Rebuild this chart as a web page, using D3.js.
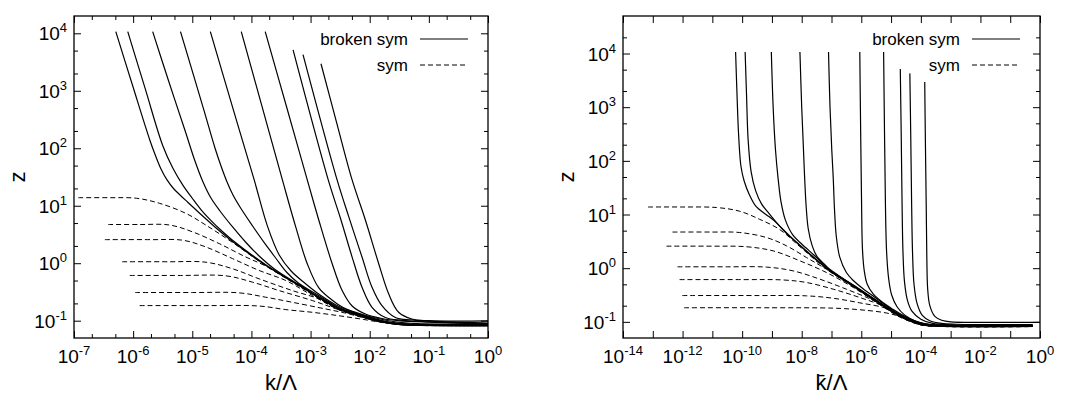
<!DOCTYPE html>
<html><head><meta charset="utf-8">
<script src="https://cdn.jsdelivr.net/npm/d3@7"></script>
<style>
body{margin:0;background:#fff}
svg{display:block}
text{font-family:"Liberation Sans",Arial,Helvetica,sans-serif;fill:#000}
</style>
</head><body>
<svg id="c" width="1066" height="394"></svg>
<script>
// ---------- DATA ----------
// left panel: z versus k/Lambda
const brokenSymLeft = [
  [[5.09e-7,1.07e4],[1e-6,1150],[1.905e-6,141],[2.40e-6,73.5],[2.96e-6,43.6],[3.74e-6,28.1],[4.81e-6,19.95],[6.32e-6,15.1],[8.47e-6,11.4],[1.175e-5,8.33],[1.706e-5,5.88],[2.83e-5,3.71],[4.79e-5,2.39],[1.74e-4,0.923],[6.31e-4,0.412],[3.02e-3,0.162],[6.46e-3,0.126],[1.26e-2,0.102],[2.09e-2,0.0912],[3.98e-2,0.0851],[0.1,0.0832],[1,0.0832]],
  [[8.11e-7,1.07e4],[1.585e-6,1122],[3.16e-6,112],[4.68e-6,45.4],[6.92e-6,22.9],[1e-5,13.5],[1.41e-5,8.51],[2.0e-5,5.75],[3.16e-5,3.63],[4.79e-5,2.51],[1.74e-4,0.944],[6.31e-4,0.417],[3.02e-3,0.164],[6.46e-3,0.127],[1.26e-2,0.1035],[2.09e-2,0.0923],[3.98e-2,0.0861],[0.1,0.0841],[1,0.0841]],
  [[2.14e-6,1.07e4],[3.98e-6,1479],[7.59e-6,200],[1.11e-5,60.0],[1.518e-5,25.9],[2.07e-5,13.6],[2.94e-5,8.10],[4.81e-5,4.27],[7.94e-5,2.34],[1.35e-4,1.336],[2.51e-4,0.778],[6.31e-4,0.4264],[3.02e-3,0.166],[6.46e-3,0.129],[1.26e-2,0.105],[2.09e-2,0.0933],[3.98e-2,0.0871],[0.1,0.0851],[1,0.0851]],
  [[6.32e-6,1.07e4],[1.585e-5,447],[2.42e-5,101],[3.06e-5,49.1],[3.87e-5,25.9],[4.88e-5,15.4],[6.41e-5,9.51],[1.047e-4,4.44],[1.658e-4,2.25],[2.574e-4,1.233],[3.98e-4,0.690],[6.37e-4,0.444],[1.416e-3,0.269],[3.02e-3,0.168],[6.46e-3,0.130],[1.26e-2,0.106],[2.09e-2,0.0933],[3.98e-2,0.0871],[0.1,0.0851],[1,0.0851]],
  [[2.02e-5,1.07e4],[5.01e-5,447],[1.114e-4,28.1],[1.86e-4,4.47],[2.95e-4,1.39],[4.69e-4,0.732],[7.94e-4,0.453],[1.41e-3,0.2856],[3.02e-3,0.1766],[6.46e-3,0.132],[1.26e-2,0.107],[2.09e-2,0.0944],[3.98e-2,0.0881],[0.1,0.0861],[1,0.0861]],
  [[6.73e-5,1.07e4],[1.585e-4,447],[3.34e-4,28.1],[5.61e-4,4.28],[8.79e-4,0.98],[1.38e-3,0.371],[2.24e-3,0.2337],[3.55e-3,0.1697],[6.31e-3,0.1361],[1.26e-2,0.1114],[2.51e-2,0.0968],[6.31e-2,0.089],[1,0.087]],
  [[1.71e-4,1.07e4],[3.98e-4,501],[8.79e-4,28.1],[1.38e-3,5.6],[2.32e-3,0.98],[3.42e-3,0.334],[5.04e-3,0.180],[8.47e-3,0.1308],[1.61e-2,0.1092],[3.25e-2,0.0996],[0.1046,0.0941],[1,0.088]],
  [[5.06e-4,5129],[1.99e-3,28.1],[3.21e-3,6.0],[5.04e-3,1.28],[7.41e-3,0.382],[1.094e-2,0.171],[1.84e-2,0.1137],[3.50e-2,0.1016],[0.1046,0.0957],[1,0.089]],
  [[7.45e-4,4266],[2.81e-3,28.1],[4.43e-3,6.4],[7.41e-3,1.28],[1.094e-2,0.382],[1.61e-2,0.183],[2.71e-2,0.114],[5.15e-2,0.103],[0.158,0.096],[1,0.091]],
  [[1.50e-3,2951],[2.75e-3,282],[5.04e-3,28.1],[8.47e-3,5.6],[1.42e-2,0.98],[2.09e-2,0.293],[3.08e-2,0.140],[5.15e-2,0.107],[9.84e-2,0.1],[1,0.0989]]
];
const symLeft = [
  [[1.18e-7,13.8],[3.98e-7,13.8],[1.135e-6,13.5],[2.81e-6,11.0],[7.87e-6,7.33],[1.71e-5,4.58],[4.81e-5,2.29],[1.75e-4,0.902],[6.38e-4,0.403],[3.01e-3,0.158],[6.46e-3,0.124],[1.26e-2,0.101],[2.51e-2,0.0891],[5.01e-2,0.0841],[1,0.0822]],
  [[3.78e-7,4.71],[1.26e-6,4.71],[4.13e-6,4.62],[1.02e-5,3.50],[2.86e-5,2.19],[8.07e-5,1.28],[1.75e-4,0.891],[6.38e-4,0.398],[3.01e-3,0.157],[6.46e-3,0.123],[1.26e-2,0.1],[2.51e-2,0.0881],[5.01e-2,0.0836],[1,0.0818]],
  [[3.33e-7,2.57],[2.0e-6,2.57],[6.93e-6,2.51],[1.71e-5,1.91],[4.81e-5,1.20],[1.35e-4,0.748],[3.81e-4,0.5],[1.07e-3,0.275],[3.01e-3,0.155],[6.46e-3,0.122],[1.26e-2,0.1],[2.51e-2,0.0877],[5.01e-2,0.0832],[1,0.0817]],
  [[6.52e-7,1.06],[3.98e-6,1.06],[1.71e-5,1.04],[4.81e-5,0.8],[1.35e-4,0.535],[4.93e-4,0.334],[1.38e-3,0.239],[3.01e-3,0.155],[6.46e-3,0.122],[1.26e-2,0.1],[2.51e-2,0.0877],[5.01e-2,0.0832],[1,0.0817]],
  [[8.77e-7,0.612],[6.31e-6,0.612],[3.72e-5,0.603],[1.045e-4,0.468],[2.94e-4,0.334],[1.07e-3,0.224],[3.01e-3,0.155],[6.46e-3,0.122],[1.26e-2,0.1],[2.51e-2,0.0877],[5.01e-2,0.0832],[1,0.0817]],
  [[1.08e-6,0.309],[1e-5,0.309],[6.24e-5,0.305],[1.75e-4,0.256],[4.93e-4,0.209],[1.79e-3,0.16],[3.98e-3,0.135],[7.94e-3,0.112],[1.585e-2,0.0955],[3.16e-2,0.0871],[6.31e-2,0.0832],[1,0.0817]],
  [[1.29e-6,0.183],[1.585e-5,0.183],[1.35e-4,0.18],[3.81e-4,0.156],[1.07e-3,0.14],[3.01e-3,0.122],[7.94e-3,0.105],[1.585e-2,0.0933],[3.16e-2,0.0861],[6.31e-2,0.0832],[1,0.0817]]
];
// right panel: z versus kbar/Lambda
const brokenSymRight = [
  [[6.03e-11,1.07e4],[6.76e-11,1585],[7.59e-11,316],[9.12e-11,79.4],[1.175e-10,41.7],[1.78e-10,22.9],[2.82e-10,14.5],[6.31e-10,10.0],[1.10e-9,7.94],[8.71e-9,2.63],[6.76e-8,1.0],[5.37e-7,0.468],[5.5e-6,0.2],[2e-5,0.129],[9.33e-5,0.0912],[3.16e-4,0.0841],[0.562,0.0832]],
  [[1.26e-10,1.07e4],[1.41e-10,1585],[1.585e-10,251],[2.0e-10,63.1],[2.82e-10,28.2],[4.47e-10,15.8],[7.94e-10,10.5],[1.585e-9,6.61],[3.16e-9,4.37],[8.71e-9,2.69],[6.76e-8,1.02],[5.37e-7,0.473],[5.5e-6,0.202],[2e-5,0.130],[9.33e-5,0.0923],[3.16e-4,0.0851],[0.562,0.0841]],
  [[9.55e-10,1.07e4],[1.10e-9,1000],[1.32e-9,158],[1.62e-9,45.7],[2.0e-9,17.8],[2.82e-9,7.94],[5.01e-9,4.17],[1e-8,2.82],[2.51e-8,1.78],[6.76e-8,1.07],[5.37e-7,0.479],[5.5e-6,0.204],[2e-5,0.132],[9.33e-5,0.0933],[3.16e-4,0.0851],[0.562,0.0841]],
  [[8.71e-9,1.07e4],[1e-8,1000],[1.148e-8,158],[1.26e-8,45.7],[1.41e-8,14.1],[1.66e-8,5.37],[2.24e-8,2.63],[3.16e-8,1.70],[6.31e-8,1.12],[1.148e-7,0.813],[2.51e-7,0.631],[5.37e-7,0.484],[5.5e-6,0.207],[2e-5,0.133],[9.33e-5,0.0933],[3.16e-4,0.0861],[0.562,0.0851]],
  [[7.94e-8,1.07e4],[8.91e-8,1000],[1.023e-7,158],[1.148e-7,45.7],[1.26e-7,12.6],[1.445e-7,3.98],[1.905e-7,1.585],[3.16e-7,0.832],[5.37e-7,0.589],[1.26e-6,0.398],[2.51e-6,0.302],[1e-5,0.174],[2e-5,0.135],[9.33e-5,0.0944],[3.16e-4,0.0871],[0.562,0.0861]],
  [[8.91e-7,1.07e4],[9.55e-7,316],[1.023e-6,15.8],[1.096e-6,2.24],[1.26e-6,0.891],[1.585e-6,0.501],[2.51e-6,0.331],[5.01e-6,0.234],[1.175e-5,0.170],[2.51e-5,0.132],[9.33e-5,0.0955],[3.16e-4,0.0871],[0.562,0.0861]],
  [[5.62e-6,1.07e4],[6.03e-6,316],[6.46e-6,15.8],[7.08e-6,2.0],[8.32e-6,0.631],[1.047e-5,0.316],[1.585e-5,0.191],[2.82e-5,0.135],[6.31e-5,0.105],[1.585e-4,0.0912],[5.01e-4,0.0871],[0.562,0.0861]],
  [[2.04e-5,5129],[2.19e-5,316],[2.34e-5,15.8],[2.51e-5,2.0],[2.82e-5,0.562],[3.55e-5,0.251],[5.01e-5,0.158],[1e-4,0.112],[2.51e-4,0.0933],[1e-3,0.0881],[0.562,0.0871]],
  [[4.27e-5,4266],[4.57e-5,316],[4.90e-5,15.8],[5.25e-5,2.0],[5.89e-5,0.501],[7.41e-5,0.224],[1.12e-4,0.132],[2.0e-4,0.105],[5.01e-4,0.0933],[1.585e-3,0.0902],[0.562,0.0891]],
  [[1.35e-4,2951],[1.41e-4,316],[1.51e-4,15.8],[1.585e-4,1.585],[1.70e-4,0.398],[2.0e-4,0.2],[2.95e-4,0.126],[5.01e-4,0.107],[1e-3,0.1],[1e-2,0.0977],[1,0.0977]]
];
const symRight = [
  [[6.92e-14,13.8],[1e-12,13.8],[1.38e-11,13.5],[8.32e-11,11.5],[3.89e-10,8.13],[1.82e-9,5.25],[8.71e-9,2.51],[6.76e-8,0.955],[5.37e-7,0.452],[5.5e-6,0.193],[2e-5,0.124],[9.33e-5,0.0891],[3.16e-4,0.0832],[0.562,0.0822]],
  [[4.57e-13,4.71],[1e-11,4.71],[8.32e-11,4.62],[6.61e-10,3.72],[3.09e-9,2.61],[1.445e-8,1.58],[6.76e-8,0.955],[5.37e-7,0.452],[5.5e-6,0.191],[2e-5,0.123],[9.33e-5,0.0887],[3.16e-4,0.0828],[0.562,0.0818]],
  [[2.88e-13,2.57],[1e-11,2.57],[1.38e-10,2.51],[1.10e-9,2.10],[8.71e-9,1.37],[6.76e-8,0.83],[5.37e-7,0.437],[5.5e-6,0.19],[2e-5,0.123],[9.33e-5,0.0887],[3.16e-4,0.0828],[0.562,0.0818]],
  [[6.76e-13,1.06],[3.16e-11,1.06],[6.61e-10,1.047],[5.13e-9,0.891],[4.07e-8,0.624],[3.16e-7,0.406],[2.51e-6,0.251],[1e-5,0.162],[3.16e-5,0.115],[9.33e-5,0.0891],[3.16e-4,0.0828],[0.562,0.0818]],
  [[7.94e-13,0.612],[1e-10,0.612],[2.40e-9,0.603],[1.445e-8,0.541],[1.148e-7,0.406],[8.91e-7,0.284],[7.08e-6,0.186],[2.51e-5,0.123],[9.33e-5,0.0891],[3.16e-4,0.0828],[0.562,0.0818]],
  [[9.77e-13,0.309],[3.16e-10,0.309],[1.445e-8,0.305],[1.148e-7,0.275],[8.91e-7,0.226],[7.08e-6,0.178],[2.51e-5,0.126],[9.33e-5,0.0902],[3.16e-4,0.0832],[0.562,0.0818]],
  [[1.12e-12,0.183],[1e-9,0.183],[1.148e-7,0.18],[8.91e-7,0.168],[7.08e-6,0.146],[3.16e-5,0.117],[1e-4,0.0955],[3.16e-4,0.0851],[1e-3,0.0828],[0.562,0.0818]]
];
// axes
const leftXExponents = [-7,-6,-5,-4,-3,-2,-1,0];
const rightXExponents = [-14,-13,-12,-11,-10,-9,-8,-7,-6,-5,-4,-3,-2,-1,0];
const rightXLabelExponents = [-14,-12,-10,-8,-6,-4,-2,0];
const yExponents = [-1,0,1,2,3,4];
const minorMultipliers = [2,5];
const legendLabels = ["broken sym","sym"];
const yTitle = "z";
const xTitles = ["k/\u039B","k\u0304/\u039B"];

// ---------- DRAW ----------
const svg = d3.select("#c");
const FS = 19, SUP = 13, LFS = 17;

function supLabel(g, xPos, yPos, exp, anchor){
  const t = g.append("text").attr("x",xPos).attr("y",yPos)
    .attr("text-anchor",anchor).attr("font-size",FS);
  t.append("tspan").text("10");
  t.append("tspan").attr("dy",-8).attr("font-size",SUP).text(String(exp));
}

function minorVals(domain){
  const out=[];
  const lo=Math.floor(Math.log10(domain[0])), hi=Math.ceil(Math.log10(domain[1]));
  for(let e=lo;e<=hi;e++) for(const m of minorMultipliers){
    const v=m*Math.pow(10,e);
    if(v>=domain[0]*1.0001 && v<=domain[1]*0.9999) out.push(v);
  }
  return out;
}

function drawPanel(p, idx){
  const g = svg.append("g");
  const x = d3.scaleLog().domain(p.xDomain).range([p.left,p.right]);
  const y = d3.scaleLog().domain(p.yDomain).range([p.bottom,p.top]);
  const cid = "clip"+idx;
  g.append("clipPath").attr("id",cid).append("rect")
    .attr("x",p.left).attr("y",p.top).attr("width",p.right-p.left).attr("height",p.bottom-p.top);
  const line = d3.line().x(d=>x(d[0])).y(d=>y(d[1])).curve(d3.curveCatmullRom.alpha(0.5));
  const plot = g.append("g").attr("clip-path",`url(#${cid})`);
  plot.selectAll("path.sym").data(p.sym).join("path").attr("class","sym")
    .attr("d",line).attr("fill","none").attr("stroke","#000")
    .attr("stroke-width",1).attr("stroke-dasharray","5,3");
  plot.selectAll("path.brk").data(p.broken).join("path").attr("class","brk")
    .attr("d",line).attr("fill","none").attr("stroke","#000").attr("stroke-width",1.2);

  // ticks (inward, mirrored)
  const xMajor = p.xExps.map(e=>Math.pow(10,e));
  const yMajor = yExponents.map(e=>Math.pow(10,e));
  const tickStyle = s=>{ s.select(".domain").remove(); s.selectAll("line").attr("stroke","#000").attr("stroke-width",1); s.selectAll("text").remove(); };
  const mk = (axisFn, scale, vals, size, tr)=>{
    g.append("g").attr("transform",tr)
      .call(axisFn(scale).tickValues(vals).tickSize(size).tickFormat(""))
      .call(tickStyle);
  };
  const xMinor = p.xMinor ? minorVals(p.xDomain) : [];
  const yMinor = minorVals(p.yDomain);
  mk(d3.axisBottom,x,xMajor,-7,`translate(0,${p.bottom})`);
  mk(d3.axisTop,x,xMajor,-7,`translate(0,${p.top})`);
  mk(d3.axisLeft,y,yMajor,-7,`translate(${p.left},0)`);
  mk(d3.axisRight,y,yMajor,-7,`translate(${p.right},0)`);
  if(xMinor.length){
    mk(d3.axisBottom,x,xMinor,-4,`translate(0,${p.bottom})`);
    mk(d3.axisTop,x,xMinor,-4,`translate(0,${p.top})`);
  }
  mk(d3.axisLeft,y,yMinor,-4,`translate(${p.left},0)`);
  mk(d3.axisRight,y,yMinor,-4,`translate(${p.right},0)`);

  // frame
  g.append("rect").attr("x",p.left).attr("y",p.top)
    .attr("width",p.right-p.left).attr("height",p.bottom-p.top)
    .attr("fill","none").attr("stroke","#000").attr("stroke-width",1.3);

  // tick labels
  p.xLabelExps.forEach(e=>supLabel(g, x(Math.pow(10,e)), p.bottom+25, e, "middle"));
  yExponents.forEach(e=>supLabel(g, p.left-7, y(Math.pow(10,e))+7, e, "end"));

  // titles
  g.append("text").attr("x",(p.left+p.right)/2).attr("y",390)
    .attr("text-anchor","middle").attr("font-size",22).text(p.xTitle);
  g.append("text").attr("transform",`translate(${p.left-57},177) rotate(-90)`)
    .attr("text-anchor","middle").attr("dominant-baseline","central")
    .attr("font-size",22).text(yTitle);

  // legend
  const lx = p.right - 80;
  [[0,null],[1,"5,3"]].forEach(([i,dash])=>{
    const yy = p.top + 23 + i*26;
    g.append("text").attr("x",lx).attr("y",yy+6).attr("text-anchor","end")
      .attr("font-size",LFS).text(legendLabels[i]);
    g.append("line").attr("x1",lx+12).attr("x2",lx+60).attr("y1",yy).attr("y2",yy)
      .attr("stroke","#000").attr("stroke-width",i?1:1.2).attr("stroke-dasharray",dash);
  });
}

drawPanel({xDomain:[1e-7,1], yDomain:[0.05,2e4], left:74, right:488, top:16, bottom:338,
  broken:brokenSymLeft, sym:symLeft, xExps:leftXExponents, xLabelExps:leftXExponents, xMinor:true,
  xTitle:xTitles[0]},0);
drawPanel({xDomain:[1e-14,1], yDomain:[0.05,5e4], left:623, right:1040, top:16, bottom:338,
  broken:brokenSymRight, sym:symRight, xExps:rightXExponents, xLabelExps:rightXLabelExponents, xMinor:false,
  xTitle:xTitles[1]},1);
</script>
</body></html>
